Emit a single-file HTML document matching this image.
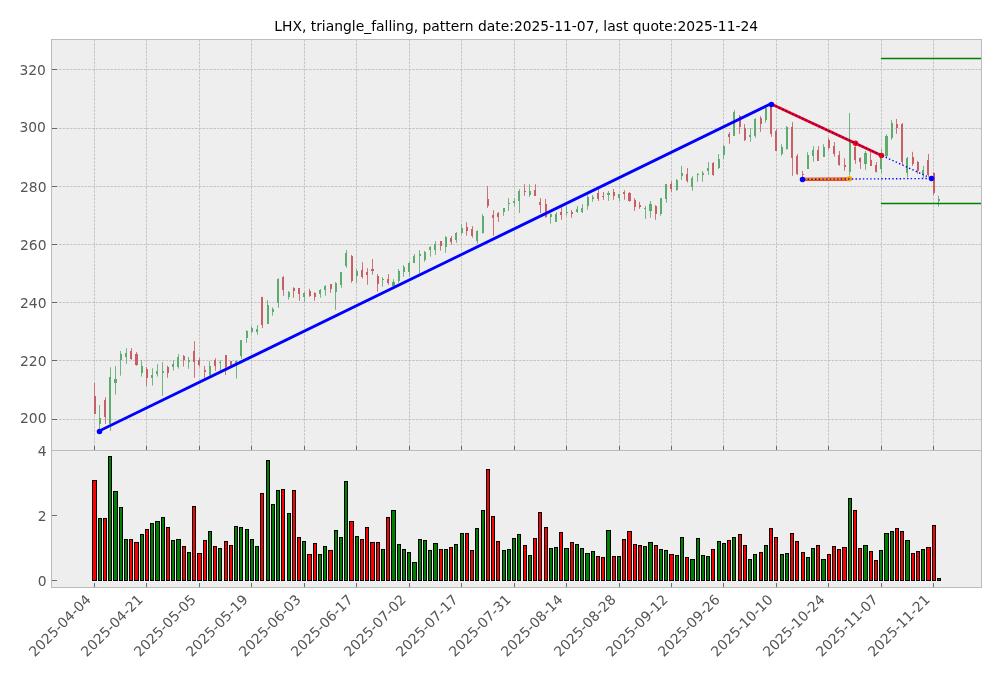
<!DOCTYPE html>
<html lang="en"><head><meta charset="utf-8"><title>LHX triangle_falling</title>
<style>html,body{margin:0;padding:0;background:#fff}body{width:1001px;height:678px;overflow:hidden}svg text{white-space:pre}</style>
</head><body>
<svg width="1001" height="678" viewBox="0 0 1001 678" style="display:block">
<rect width="1001" height="678" fill="#fff"/>
<rect x="51.5" y="39.5" width="930.0" height="548.0" fill="#eeeeee"/>
<path d="M94.5 450.5V39.5M146.5 450.5V39.5M199.5 450.5V39.5M251.5 450.5V39.5M304.5 450.5V39.5M356.5 450.5V39.5M409.5 450.5V39.5M461.5 450.5V39.5M514.5 450.5V39.5M566.5 450.5V39.5M619.5 450.5V39.5M671.5 450.5V39.5M723.5 450.5V39.5M776.5 450.5V39.5M828.5 450.5V39.5M881.5 450.5V39.5M933.5 450.5V39.5M51.5 419.5H981.5M51.5 360.5H981.5M51.5 302.5H981.5M51.5 244.5H981.5M51.5 186.5H981.5M51.5 128.5H981.5M51.5 69.5H981.5" stroke="#b2b2b2" stroke-width="0.69" stroke-dasharray="2.57 1.11" fill="none"/>
<g fill="#70b57e"><rect x="99" y="405.1" width="1" height="26.0"/><rect x="110" y="367.3" width="1" height="63.6"/><rect x="115" y="366.1" width="1" height="28.4"/><rect x="120" y="351.0" width="1" height="24.7"/><rect x="126" y="348.2" width="1" height="15.6"/><rect x="141" y="360.1" width="1" height="16.4"/><rect x="152" y="368.2" width="1" height="17.4"/><rect x="157" y="364.0" width="1" height="12.6"/><rect x="162" y="362.2" width="1" height="33.6"/><rect x="173" y="360.1" width="1" height="10.4"/><rect x="178" y="354.1" width="1" height="14.6"/><rect x="188" y="357.0" width="1" height="11.8"/><rect x="209" y="361.2" width="1" height="14.4"/><rect x="220" y="360.3" width="1" height="10.4"/><rect x="236" y="360.3" width="1" height="18.2"/><rect x="241" y="340.2" width="1" height="18.6"/><rect x="246" y="330.2" width="1" height="12.6"/><rect x="251" y="326.1" width="1" height="7.4"/><rect x="257" y="325.2" width="1" height="9.6"/><rect x="267" y="300.1" width="1" height="23.6"/><rect x="272" y="307.3" width="1" height="8.4"/><rect x="278" y="278.2" width="1" height="29.6"/><rect x="288" y="291.1" width="1" height="8.6"/><rect x="304" y="292.1" width="1" height="9.8"/><rect x="320" y="289.1" width="1" height="8.6"/><rect x="325" y="285.2" width="1" height="10.6"/><rect x="335" y="282.2" width="1" height="27.6"/><rect x="341" y="272.0" width="1" height="15.8"/><rect x="346" y="250.1" width="1" height="17.6"/><rect x="356" y="269.0" width="1" height="13.8"/><rect x="382" y="277.1" width="1" height="9.5"/><rect x="393" y="279.2" width="1" height="7.2"/><rect x="398" y="269.0" width="1" height="13.8"/><rect x="403" y="265.1" width="1" height="11.6"/><rect x="409" y="262.1" width="1" height="14.6"/><rect x="414" y="254.0" width="1" height="9.0"/><rect x="419" y="250.1" width="1" height="23.0"/><rect x="424" y="251.0" width="1" height="10.8"/><rect x="430" y="246.2" width="1" height="10.4"/><rect x="435" y="241.1" width="1" height="13.7"/><rect x="445" y="236.0" width="1" height="16.8"/><rect x="456" y="232.1" width="1" height="10.7"/><rect x="461" y="224.0" width="1" height="10.8"/><rect x="477" y="230.2" width="1" height="13.5"/><rect x="482" y="214.1" width="1" height="19.4"/><rect x="503" y="208.2" width="1" height="7.7"/><rect x="508" y="198.1" width="1" height="12.8"/><rect x="514" y="198.0" width="1" height="8.2"/><rect x="519" y="189.0" width="1" height="24.0"/><rect x="529" y="184.2" width="1" height="12.6"/><rect x="550" y="213.5" width="1" height="10.2"/><rect x="556" y="212.1" width="1" height="9.8"/><rect x="566" y="206.1" width="1" height="9.6"/><rect x="577" y="206.1" width="1" height="6.8"/><rect x="582" y="204.2" width="1" height="8.8"/><rect x="587" y="195.0" width="1" height="14.7"/><rect x="592" y="195.0" width="1" height="6.8"/><rect x="608" y="191.1" width="1" height="9.8"/><rect x="619" y="193.8" width="1" height="7.2"/><rect x="645" y="206.1" width="1" height="12.8"/><rect x="650" y="201.0" width="1" height="16.8"/><rect x="660" y="198.0" width="1" height="17.7"/><rect x="666" y="183.9" width="1" height="18.8"/><rect x="676" y="179.0" width="1" height="11.8"/><rect x="681" y="165.9" width="1" height="14.0"/><rect x="692" y="176.1" width="1" height="14.6"/><rect x="697" y="173.1" width="1" height="8.6"/><rect x="702" y="171.0" width="1" height="10.8"/><rect x="708" y="162.0" width="1" height="12.9"/><rect x="718" y="154.0" width="1" height="15.0"/><rect x="723" y="145.2" width="1" height="13.8"/><rect x="734" y="110.1" width="1" height="25.7"/><rect x="750" y="128.1" width="1" height="13.7"/><rect x="755" y="118.2" width="1" height="19.5"/><rect x="765" y="108.0" width="1" height="14.6"/><rect x="781" y="144.2" width="1" height="11.5"/><rect x="786" y="126.0" width="1" height="23.7"/><rect x="807" y="152.2" width="1" height="16.8"/><rect x="813" y="146.1" width="1" height="15.6"/><rect x="823" y="144.2" width="1" height="12.6"/><rect x="849" y="112.9" width="1" height="62.6"/><rect x="865" y="151.0" width="1" height="18.8"/><rect x="881" y="148.9" width="1" height="24.8"/><rect x="886" y="134.2" width="1" height="22.8"/><rect x="891" y="120.1" width="1" height="19.7"/><rect x="907" y="157.0" width="1" height="20.4"/><rect x="923" y="165.9" width="1" height="12.0"/><rect x="938" y="195.8" width="1" height="10.8"/></g><g fill="#5eac6d"><rect x="99" y="418" width="2" height="6"/><rect x="109" y="377" width="2" height="47"/><rect x="114" y="379" width="3" height="4"/><rect x="120" y="354" width="2" height="6"/><rect x="125" y="353" width="2" height="4"/><rect x="141" y="366" width="2" height="7"/><rect x="151" y="375" width="2" height="3"/><rect x="156" y="371" width="2" height="3"/><rect x="162" y="371" width="2" height="2"/><rect x="172" y="364" width="2" height="3"/><rect x="177" y="357" width="2" height="10"/><rect x="188" y="360" width="2" height="2"/><rect x="209" y="366" width="2" height="9"/><rect x="219" y="362" width="2" height="1"/><rect x="235" y="361" width="2" height="2"/><rect x="240" y="340" width="2" height="16"/><rect x="246" y="331" width="2" height="7"/><rect x="251" y="328" width="2" height="4"/><rect x="256" y="329" width="2" height="3"/><rect x="267" y="305" width="2" height="19"/><rect x="272" y="309" width="2" height="3"/><rect x="277" y="279" width="2" height="24"/><rect x="288" y="292" width="2" height="5"/><rect x="303" y="293" width="2" height="4"/><rect x="319" y="290" width="2" height="4"/><rect x="324" y="286" width="2" height="4"/><rect x="335" y="283" width="2" height="9"/><rect x="340" y="272" width="2" height="13"/><rect x="345" y="253" width="2" height="13"/><rect x="356" y="271" width="2" height="5"/><rect x="382" y="279" width="2" height="1"/><rect x="392" y="282" width="3" height="4"/><rect x="398" y="271" width="2" height="10"/><rect x="403" y="267" width="2" height="5"/><rect x="408" y="263" width="2" height="9"/><rect x="413" y="256" width="2" height="7"/><rect x="419" y="254" width="2" height="2"/><rect x="424" y="252" width="2" height="8"/><rect x="429" y="247" width="2" height="3"/><rect x="434" y="244" width="2" height="6"/><rect x="445" y="237" width="2" height="10"/><rect x="455" y="233" width="2" height="7"/><rect x="461" y="228" width="2" height="5"/><rect x="476" y="231" width="2" height="10"/><rect x="482" y="216" width="2" height="17"/><rect x="503" y="208" width="2" height="4"/><rect x="508" y="203" width="2" height="1"/><rect x="513" y="201" width="2" height="2"/><rect x="518" y="191" width="2" height="10"/><rect x="529" y="191" width="2" height="4"/><rect x="550" y="214" width="2" height="3"/><rect x="555" y="214" width="2" height="8"/><rect x="566" y="212" width="2" height="1"/><rect x="576" y="209" width="2" height="3"/><rect x="581" y="208" width="2" height="4"/><rect x="587" y="197" width="2" height="9"/><rect x="592" y="197" width="2" height="2"/><rect x="607" y="193" width="3" height="2"/><rect x="618" y="194" width="2" height="4"/><rect x="644" y="208" width="2" height="1"/><rect x="649" y="204" width="3" height="7"/><rect x="660" y="198" width="2" height="16"/><rect x="665" y="184" width="2" height="15"/><rect x="676" y="180" width="2" height="10"/><rect x="681" y="173" width="2" height="3"/><rect x="691" y="178" width="2" height="9"/><rect x="697" y="174" width="2" height="1"/><rect x="702" y="173" width="2" height="2"/><rect x="707" y="168" width="2" height="3"/><rect x="718" y="159" width="2" height="9"/><rect x="723" y="146" width="2" height="9"/><rect x="733" y="112" width="2" height="24"/><rect x="749" y="135" width="2" height="2"/><rect x="754" y="119" width="2" height="17"/><rect x="765" y="108" width="2" height="12"/><rect x="781" y="147" width="2" height="7"/><rect x="786" y="127" width="2" height="22"/><rect x="807" y="155" width="2" height="14"/><rect x="812" y="150" width="2" height="6"/><rect x="823" y="147" width="2" height="10"/><rect x="849" y="142" width="2" height="30"/><rect x="864" y="153" width="3" height="11"/><rect x="880" y="158" width="2" height="11"/><rect x="885" y="136" width="3" height="20"/><rect x="891" y="123" width="2" height="15"/><rect x="906" y="158" width="2" height="15"/><rect x="922" y="170" width="2" height="5"/><rect x="938" y="199" width="2" height="2"/></g>
<g fill="#cf7276"><rect x="94" y="382.9" width="1" height="30.8"/><rect x="105" y="397.3" width="1" height="26.6"/><rect x="131" y="348.2" width="1" height="11.6"/><rect x="136" y="352.0" width="1" height="13.8"/><rect x="146" y="367.0" width="1" height="18.8"/><rect x="167" y="365.8" width="1" height="12.0"/><rect x="183" y="355.0" width="1" height="11.6"/><rect x="194" y="341.2" width="1" height="36.6"/><rect x="199" y="358.0" width="1" height="8.6"/><rect x="204" y="365.9" width="1" height="12.0"/><rect x="215" y="358.2" width="1" height="12.6"/><rect x="225" y="355.2" width="1" height="19.8"/><rect x="230" y="361.2" width="1" height="4.8"/><rect x="262" y="296.8" width="1" height="31.2"/><rect x="283" y="276.1" width="1" height="19.7"/><rect x="293" y="287.2" width="1" height="10.6"/><rect x="299" y="288.1" width="1" height="12.8"/><rect x="309" y="288.8" width="1" height="8.0"/><rect x="314" y="292.1" width="1" height="8.6"/><rect x="330" y="284.0" width="1" height="8.8"/><rect x="351" y="254.9" width="1" height="27.8"/><rect x="362" y="262.1" width="1" height="16.4"/><rect x="367" y="268.1" width="1" height="16.7"/><rect x="372" y="259.0" width="1" height="15.6"/><rect x="377" y="274.1" width="1" height="17.6"/><rect x="388" y="274.1" width="1" height="10.7"/><rect x="440" y="241.1" width="1" height="9.5"/><rect x="451" y="236.0" width="1" height="8.6"/><rect x="466" y="222.2" width="1" height="13.5"/><rect x="472" y="226.1" width="1" height="11.6"/><rect x="487" y="186.1" width="1" height="21.8"/><rect x="493" y="210.2" width="1" height="25.5"/><rect x="498" y="212.0" width="1" height="9.8"/><rect x="524" y="184.2" width="1" height="11.6"/><rect x="535" y="184.2" width="1" height="11.6"/><rect x="540" y="198.0" width="1" height="15.0"/><rect x="545" y="198.9" width="1" height="18.8"/><rect x="561" y="207.3" width="1" height="12.5"/><rect x="571" y="210.0" width="1" height="7.8"/><rect x="598" y="189.0" width="1" height="12.0"/><rect x="603" y="192.0" width="1" height="7.8"/><rect x="613" y="189.0" width="1" height="10.8"/><rect x="624" y="190.2" width="1" height="9.6"/><rect x="629" y="192.0" width="1" height="9.8"/><rect x="634" y="198.0" width="1" height="12.9"/><rect x="639" y="201.8" width="1" height="7.0"/><rect x="655" y="205.2" width="1" height="14.6"/><rect x="671" y="181.2" width="1" height="10.8"/><rect x="687" y="168.0" width="1" height="14.6"/><rect x="713" y="162.0" width="1" height="13.8"/><rect x="729" y="132.0" width="1" height="11.8"/><rect x="739" y="115.2" width="1" height="18.6"/><rect x="744" y="124.2" width="1" height="16.8"/><rect x="760" y="116.1" width="1" height="15.8"/><rect x="771" y="106.8" width="1" height="30.0"/><rect x="776" y="129.0" width="1" height="21.9"/><rect x="792" y="122.1" width="1" height="53.7"/><rect x="797" y="154.0" width="1" height="21.0"/><rect x="802" y="170.9" width="1" height="8.1"/><rect x="818" y="146.1" width="1" height="14.6"/><rect x="828" y="138.1" width="1" height="11.6"/><rect x="834" y="142.0" width="1" height="14.6"/><rect x="839" y="151.0" width="1" height="14.7"/><rect x="844" y="158.2" width="1" height="12.6"/><rect x="855" y="146.2" width="1" height="17.6"/><rect x="860" y="157.3" width="1" height="11.6"/><rect x="870" y="151.8" width="1" height="14.1"/><rect x="876" y="162.1" width="1" height="10.4"/><rect x="896" y="118.9" width="1" height="14.9"/><rect x="902" y="123.0" width="1" height="41.7"/><rect x="912" y="151.8" width="1" height="14.1"/><rect x="917" y="160.9" width="1" height="12.8"/><rect x="928" y="154.0" width="1" height="22.8"/><rect x="933" y="172.2" width="1" height="22.8"/></g><g fill="#c76065"><rect x="94" y="396" width="2" height="18"/><rect x="104" y="400" width="2" height="17"/><rect x="130" y="351" width="2" height="8"/><rect x="135" y="354" width="3" height="11"/><rect x="146" y="369" width="2" height="9"/><rect x="167" y="367" width="2" height="6"/><rect x="183" y="356" width="2" height="4"/><rect x="193" y="351" width="2" height="11"/><rect x="198" y="360" width="2" height="5"/><rect x="204" y="370" width="2" height="2"/><rect x="214" y="360" width="2" height="6"/><rect x="225" y="355" width="2" height="12"/><rect x="230" y="361" width="2" height="4"/><rect x="261" y="297" width="2" height="28"/><rect x="282" y="277" width="2" height="13"/><rect x="293" y="288" width="2" height="3"/><rect x="298" y="288" width="2" height="6"/><rect x="309" y="291" width="2" height="5"/><rect x="314" y="293" width="2" height="4"/><rect x="330" y="284" width="2" height="5"/><rect x="351" y="256" width="2" height="25"/><rect x="361" y="270" width="2" height="7"/><rect x="366" y="272" width="2" height="3"/><rect x="371" y="269" width="3" height="2"/><rect x="377" y="276" width="2" height="8"/><rect x="387" y="279" width="2" height="4"/><rect x="440" y="241" width="2" height="5"/><rect x="450" y="238" width="2" height="4"/><rect x="466" y="227" width="2" height="4"/><rect x="471" y="229" width="2" height="7"/><rect x="487" y="199" width="2" height="7"/><rect x="492" y="215" width="2" height="3"/><rect x="497" y="213" width="2" height="4"/><rect x="524" y="191" width="2" height="1"/><rect x="534" y="190" width="2" height="6"/><rect x="539" y="202" width="2" height="3"/><rect x="545" y="204" width="2" height="13"/><rect x="560" y="212" width="2" height="3"/><rect x="571" y="212" width="2" height="2"/><rect x="597" y="193" width="2" height="6"/><rect x="602" y="196" width="2" height="1"/><rect x="613" y="192" width="2" height="4"/><rect x="623" y="192" width="2" height="2"/><rect x="628" y="193" width="3" height="8"/><rect x="634" y="200" width="2" height="7"/><rect x="639" y="205" width="2" height="2"/><rect x="655" y="206" width="2" height="8"/><rect x="670" y="184" width="2" height="5"/><rect x="686" y="174" width="2" height="7"/><rect x="712" y="163" width="2" height="12"/><rect x="728" y="134" width="2" height="3"/><rect x="739" y="116" width="2" height="11"/><rect x="744" y="128" width="2" height="12"/><rect x="760" y="118" width="2" height="6"/><rect x="770" y="107" width="2" height="27"/><rect x="775" y="131" width="2" height="20"/><rect x="791" y="127" width="2" height="31"/><rect x="796" y="156" width="2" height="18"/><rect x="802" y="174" width="2" height="1"/><rect x="817" y="150" width="2" height="11"/><rect x="828" y="140" width="2" height="8"/><rect x="833" y="146" width="2" height="8"/><rect x="838" y="155" width="2" height="10"/><rect x="844" y="165" width="2" height="2"/><rect x="854" y="147" width="2" height="13"/><rect x="859" y="158" width="2" height="4"/><rect x="870" y="160" width="2" height="6"/><rect x="875" y="165" width="2" height="7"/><rect x="896" y="124" width="2" height="4"/><rect x="901" y="124" width="2" height="38"/><rect x="912" y="157" width="2" height="7"/><rect x="917" y="162" width="2" height="9"/><rect x="927" y="160" width="2" height="15"/><rect x="933" y="173" width="2" height="20"/></g>
<path d="M99.28 431.0L770.61 103.95" stroke="#0000ff" stroke-width="2.78" fill="none" stroke-linecap="square"/>
<path d="M880.9 58.5H981.5M880.9 203.5H981.5" stroke="#008000" stroke-width="1.39" fill="none"/>
<path d="M771.3 104.05L881.5 155.5" stroke="#ff0000" stroke-width="2.9" fill="none"/>
<path d="M802.5 179.3L849.5 179.05" stroke="#ff0000" stroke-width="3.3" fill="none"/>
<path d="M802.5 179.3L849.5 179.05" stroke="#ff8800" stroke-width="2.6" fill="none"/>
<circle cx="855.5" cy="143.3" r="2.75" fill="#ff0000"/>
<circle cx="881.5" cy="155.5" r="2.75" fill="#ff0000"/>
<circle cx="849.5" cy="178.8" r="2.75" fill="#ffa500"/>
<path d="M771.3 104.05L931.5 178.5" stroke="#0000ff" stroke-width="1.39" stroke-dasharray="1.39 2.29" stroke-dashoffset="2.67" fill="none"/>
<path d="M802.5 179.3L931.5 178.5" stroke="#0000ff" stroke-width="1.39" stroke-dasharray="1.39 2.29" stroke-dashoffset="-1.5" fill="none"/>
<circle cx="99.5" cy="431.5" r="2.75" fill="#0000ff"/>
<circle cx="771.5" cy="104.4" r="2.75" fill="#0000ff"/>
<circle cx="802.5" cy="179.45" r="2.75" fill="#0000ff"/>
<circle cx="931.5" cy="178.5" r="2.75" fill="#0000ff"/>
<g stroke="#000" stroke-width="1" shape-rendering="crispEdges"><rect x="92.5" y="480.5" width="4.0" height="100.0" fill="#ff0000"/><rect x="98.5" y="518.5" width="3.0" height="62.0" fill="#008000"/><rect x="103.5" y="518.5" width="3.0" height="62.0" fill="#ff0000"/><rect x="108.5" y="456.5" width="3.0" height="124.0" fill="#008000"/><rect x="113.5" y="491.5" width="4.0" height="89.0" fill="#008000"/><rect x="119.5" y="507.5" width="3.0" height="73.0" fill="#008000"/><rect x="124.5" y="539.5" width="3.0" height="41.0" fill="#008000"/><rect x="129.5" y="539.5" width="3.0" height="41.0" fill="#ff0000"/><rect x="134.5" y="542.5" width="4.0" height="38.0" fill="#ff0000"/><rect x="140.5" y="534.5" width="3.0" height="46.0" fill="#008000"/><rect x="145.5" y="529.5" width="3.0" height="51.0" fill="#ff0000"/><rect x="150.5" y="523.5" width="3.0" height="57.0" fill="#008000"/><rect x="155.5" y="521.5" width="4.0" height="59.0" fill="#008000"/><rect x="161.5" y="517.5" width="3.0" height="63.0" fill="#008000"/><rect x="166.5" y="527.5" width="3.0" height="53.0" fill="#ff0000"/><rect x="171.5" y="540.5" width="3.0" height="40.0" fill="#008000"/><rect x="176.5" y="539.5" width="4.0" height="41.0" fill="#008000"/><rect x="182.5" y="546.5" width="3.0" height="34.0" fill="#ff0000"/><rect x="187.5" y="552.5" width="3.0" height="28.0" fill="#008000"/><rect x="192.5" y="506.5" width="3.0" height="74.0" fill="#ff0000"/><rect x="197.5" y="553.5" width="4.0" height="27.0" fill="#ff0000"/><rect x="203.5" y="540.5" width="3.0" height="40.0" fill="#ff0000"/><rect x="208.5" y="531.5" width="3.0" height="49.0" fill="#008000"/><rect x="213.5" y="546.5" width="3.0" height="34.0" fill="#ff0000"/><rect x="218.5" y="548.5" width="3.0" height="32.0" fill="#008000"/><rect x="224.5" y="541.5" width="3.0" height="39.0" fill="#ff0000"/><rect x="229.5" y="545.5" width="3.0" height="35.0" fill="#ff0000"/><rect x="234.5" y="526.5" width="3.0" height="54.0" fill="#008000"/><rect x="239.5" y="527.5" width="3.0" height="53.0" fill="#008000"/><rect x="245.5" y="529.5" width="3.0" height="51.0" fill="#008000"/><rect x="250.5" y="539.5" width="3.0" height="41.0" fill="#008000"/><rect x="255.5" y="546.5" width="3.0" height="34.0" fill="#008000"/><rect x="260.5" y="493.5" width="3.0" height="87.0" fill="#ff0000"/><rect x="266.5" y="460.5" width="3.0" height="120.0" fill="#008000"/><rect x="271.5" y="504.5" width="3.0" height="76.0" fill="#008000"/><rect x="276.5" y="490.5" width="3.0" height="90.0" fill="#008000"/><rect x="281.5" y="489.5" width="3.0" height="91.0" fill="#ff0000"/><rect x="287.5" y="513.5" width="3.0" height="67.0" fill="#008000"/><rect x="292.5" y="490.5" width="3.0" height="90.0" fill="#ff0000"/><rect x="297.5" y="537.5" width="3.0" height="43.0" fill="#ff0000"/><rect x="302.5" y="541.5" width="3.0" height="39.0" fill="#008000"/><rect x="307.5" y="554.5" width="4.0" height="26.0" fill="#ff0000"/><rect x="313.5" y="543.5" width="3.0" height="37.0" fill="#ff0000"/><rect x="318.5" y="554.5" width="3.0" height="26.0" fill="#008000"/><rect x="323.5" y="546.5" width="3.0" height="34.0" fill="#008000"/><rect x="328.5" y="550.5" width="4.0" height="30.0" fill="#ff0000"/><rect x="334.5" y="530.5" width="3.0" height="50.0" fill="#008000"/><rect x="339.5" y="537.5" width="3.0" height="43.0" fill="#008000"/><rect x="344.5" y="481.5" width="3.0" height="99.0" fill="#008000"/><rect x="349.5" y="521.5" width="4.0" height="59.0" fill="#ff0000"/><rect x="355.5" y="536.5" width="3.0" height="44.0" fill="#008000"/><rect x="360.5" y="539.5" width="3.0" height="41.0" fill="#ff0000"/><rect x="365.5" y="527.5" width="3.0" height="53.0" fill="#ff0000"/><rect x="370.5" y="542.5" width="4.0" height="38.0" fill="#ff0000"/><rect x="376.5" y="542.5" width="3.0" height="38.0" fill="#ff0000"/><rect x="381.5" y="549.5" width="3.0" height="31.0" fill="#008000"/><rect x="386.5" y="517.5" width="3.0" height="63.0" fill="#ff0000"/><rect x="391.5" y="510.5" width="4.0" height="70.0" fill="#008000"/><rect x="397.5" y="544.5" width="3.0" height="36.0" fill="#008000"/><rect x="402.5" y="549.5" width="3.0" height="31.0" fill="#008000"/><rect x="407.5" y="552.5" width="3.0" height="28.0" fill="#008000"/><rect x="412.5" y="562.5" width="4.0" height="18.0" fill="#008000"/><rect x="418.5" y="539.5" width="3.0" height="41.0" fill="#008000"/><rect x="423.5" y="540.5" width="3.0" height="40.0" fill="#008000"/><rect x="428.5" y="550.5" width="3.0" height="30.0" fill="#008000"/><rect x="433.5" y="543.5" width="4.0" height="37.0" fill="#008000"/><rect x="439.5" y="549.5" width="3.0" height="31.0" fill="#ff0000"/><rect x="444.5" y="549.5" width="3.0" height="31.0" fill="#008000"/><rect x="449.5" y="547.5" width="3.0" height="33.0" fill="#ff0000"/><rect x="454.5" y="544.5" width="3.0" height="36.0" fill="#008000"/><rect x="460.5" y="533.5" width="3.0" height="47.0" fill="#008000"/><rect x="465.5" y="533.5" width="3.0" height="47.0" fill="#ff0000"/><rect x="470.5" y="550.5" width="3.0" height="30.0" fill="#ff0000"/><rect x="475.5" y="528.5" width="3.0" height="52.0" fill="#008000"/><rect x="481.5" y="510.5" width="3.0" height="70.0" fill="#008000"/><rect x="486.5" y="469.5" width="3.0" height="111.0" fill="#ff0000"/><rect x="491.5" y="516.5" width="3.0" height="64.0" fill="#ff0000"/><rect x="496.5" y="541.5" width="3.0" height="39.0" fill="#ff0000"/><rect x="502.5" y="550.5" width="3.0" height="30.0" fill="#008000"/><rect x="507.5" y="549.5" width="3.0" height="31.0" fill="#008000"/><rect x="512.5" y="538.5" width="3.0" height="42.0" fill="#008000"/><rect x="517.5" y="534.5" width="3.0" height="46.0" fill="#008000"/><rect x="523.5" y="545.5" width="3.0" height="35.0" fill="#ff0000"/><rect x="528.5" y="555.5" width="3.0" height="25.0" fill="#008000"/><rect x="533.5" y="538.5" width="3.0" height="42.0" fill="#ff0000"/><rect x="538.5" y="512.5" width="3.0" height="68.0" fill="#ff0000"/><rect x="544.5" y="527.5" width="3.0" height="53.0" fill="#ff0000"/><rect x="549.5" y="548.5" width="3.0" height="32.0" fill="#008000"/><rect x="554.5" y="547.5" width="3.0" height="33.0" fill="#008000"/><rect x="559.5" y="532.5" width="3.0" height="48.0" fill="#ff0000"/><rect x="564.5" y="548.5" width="4.0" height="32.0" fill="#008000"/><rect x="570.5" y="542.5" width="3.0" height="38.0" fill="#ff0000"/><rect x="575.5" y="544.5" width="3.0" height="36.0" fill="#008000"/><rect x="580.5" y="548.5" width="3.0" height="32.0" fill="#008000"/><rect x="585.5" y="553.5" width="4.0" height="27.0" fill="#008000"/><rect x="591.5" y="551.5" width="3.0" height="29.0" fill="#008000"/><rect x="596.5" y="556.5" width="3.0" height="24.0" fill="#ff0000"/><rect x="601.5" y="557.5" width="3.0" height="23.0" fill="#ff0000"/><rect x="606.5" y="530.5" width="4.0" height="50.0" fill="#008000"/><rect x="612.5" y="556.5" width="3.0" height="24.0" fill="#ff0000"/><rect x="617.5" y="556.5" width="3.0" height="24.0" fill="#008000"/><rect x="622.5" y="539.5" width="3.0" height="41.0" fill="#ff0000"/><rect x="627.5" y="531.5" width="4.0" height="49.0" fill="#ff0000"/><rect x="633.5" y="544.5" width="3.0" height="36.0" fill="#ff0000"/><rect x="638.5" y="545.5" width="3.0" height="35.0" fill="#ff0000"/><rect x="643.5" y="546.5" width="3.0" height="34.0" fill="#008000"/><rect x="648.5" y="542.5" width="4.0" height="38.0" fill="#008000"/><rect x="654.5" y="545.5" width="3.0" height="35.0" fill="#ff0000"/><rect x="659.5" y="549.5" width="3.0" height="31.0" fill="#008000"/><rect x="664.5" y="550.5" width="3.0" height="30.0" fill="#008000"/><rect x="669.5" y="554.5" width="4.0" height="26.0" fill="#ff0000"/><rect x="675.5" y="555.5" width="3.0" height="25.0" fill="#008000"/><rect x="680.5" y="537.5" width="3.0" height="43.0" fill="#008000"/><rect x="685.5" y="557.5" width="3.0" height="23.0" fill="#ff0000"/><rect x="690.5" y="559.5" width="4.0" height="21.0" fill="#008000"/><rect x="696.5" y="538.5" width="3.0" height="42.0" fill="#008000"/><rect x="701.5" y="555.5" width="3.0" height="25.0" fill="#008000"/><rect x="706.5" y="556.5" width="3.0" height="24.0" fill="#008000"/><rect x="711.5" y="549.5" width="3.0" height="31.0" fill="#ff0000"/><rect x="717.5" y="541.5" width="3.0" height="39.0" fill="#008000"/><rect x="722.5" y="543.5" width="3.0" height="37.0" fill="#008000"/><rect x="727.5" y="540.5" width="3.0" height="40.0" fill="#ff0000"/><rect x="732.5" y="537.5" width="3.0" height="43.0" fill="#008000"/><rect x="738.5" y="534.5" width="3.0" height="46.0" fill="#ff0000"/><rect x="743.5" y="545.5" width="3.0" height="35.0" fill="#ff0000"/><rect x="748.5" y="559.5" width="3.0" height="21.0" fill="#008000"/><rect x="753.5" y="554.5" width="3.0" height="26.0" fill="#008000"/><rect x="759.5" y="552.5" width="3.0" height="28.0" fill="#ff0000"/><rect x="764.5" y="545.5" width="3.0" height="35.0" fill="#008000"/><rect x="769.5" y="528.5" width="3.0" height="52.0" fill="#ff0000"/><rect x="774.5" y="537.5" width="3.0" height="43.0" fill="#ff0000"/><rect x="780.5" y="554.5" width="3.0" height="26.0" fill="#008000"/><rect x="785.5" y="553.5" width="3.0" height="27.0" fill="#008000"/><rect x="790.5" y="533.5" width="3.0" height="47.0" fill="#ff0000"/><rect x="795.5" y="541.5" width="3.0" height="39.0" fill="#ff0000"/><rect x="801.5" y="552.5" width="3.0" height="28.0" fill="#ff0000"/><rect x="806.5" y="557.5" width="3.0" height="23.0" fill="#008000"/><rect x="811.5" y="548.5" width="3.0" height="32.0" fill="#008000"/><rect x="816.5" y="545.5" width="3.0" height="35.0" fill="#ff0000"/><rect x="821.5" y="559.5" width="4.0" height="21.0" fill="#008000"/><rect x="827.5" y="554.5" width="3.0" height="26.0" fill="#ff0000"/><rect x="832.5" y="546.5" width="3.0" height="34.0" fill="#ff0000"/><rect x="837.5" y="549.5" width="3.0" height="31.0" fill="#ff0000"/><rect x="842.5" y="547.5" width="4.0" height="33.0" fill="#ff0000"/><rect x="848.5" y="498.5" width="3.0" height="82.0" fill="#008000"/><rect x="853.5" y="510.5" width="3.0" height="70.0" fill="#ff0000"/><rect x="858.5" y="548.5" width="3.0" height="32.0" fill="#ff0000"/><rect x="863.5" y="545.5" width="4.0" height="35.0" fill="#008000"/><rect x="869.5" y="551.5" width="3.0" height="29.0" fill="#ff0000"/><rect x="874.5" y="560.5" width="3.0" height="20.0" fill="#ff0000"/><rect x="879.5" y="550.5" width="3.0" height="30.0" fill="#008000"/><rect x="884.5" y="533.5" width="4.0" height="47.0" fill="#008000"/><rect x="890.5" y="531.5" width="3.0" height="49.0" fill="#008000"/><rect x="895.5" y="528.5" width="3.0" height="52.0" fill="#ff0000"/><rect x="900.5" y="531.5" width="3.0" height="49.0" fill="#ff0000"/><rect x="905.5" y="540.5" width="4.0" height="40.0" fill="#008000"/><rect x="911.5" y="553.5" width="3.0" height="27.0" fill="#ff0000"/><rect x="916.5" y="551.5" width="3.0" height="29.0" fill="#ff0000"/><rect x="921.5" y="549.5" width="3.0" height="31.0" fill="#008000"/><rect x="926.5" y="547.5" width="4.0" height="33.0" fill="#ff0000"/><rect x="932.5" y="525.5" width="3.0" height="55.0" fill="#ff0000"/><rect x="937.5" y="578.5" width="3.0" height="2.0" fill="#008000"/></g>
<path d="M51.5 39.5H981.5V587.5H51.5ZM51.5 450.5H981.5" stroke="#bcbcbc" stroke-width="1" fill="none" shape-rendering="crispEdges"/>
<path d="M94.5 450.0v-4.5M94.5 587.0v-4.5M146.5 450.0v-4.5M146.5 587.0v-4.5M199.5 450.0v-4.5M199.5 587.0v-4.5M251.5 450.0v-4.5M251.5 587.0v-4.5M304.5 450.0v-4.5M304.5 587.0v-4.5M356.5 450.0v-4.5M356.5 587.0v-4.5M409.5 450.0v-4.5M409.5 587.0v-4.5M461.5 450.0v-4.5M461.5 587.0v-4.5M514.5 450.0v-4.5M514.5 587.0v-4.5M566.5 450.0v-4.5M566.5 587.0v-4.5M619.5 450.0v-4.5M619.5 587.0v-4.5M671.5 450.0v-4.5M671.5 587.0v-4.5M723.5 450.0v-4.5M723.5 587.0v-4.5M776.5 450.0v-4.5M776.5 587.0v-4.5M828.5 450.0v-4.5M828.5 587.0v-4.5M881.5 450.0v-4.5M881.5 587.0v-4.5M933.5 450.0v-4.5M933.5 587.0v-4.5M52.0 419.5h4.5M52.0 360.5h4.5M52.0 302.5h4.5M52.0 244.5h4.5M52.0 186.5h4.5M52.0 128.5h4.5M52.0 69.5h4.5M52.0 580.5h4.5M52.0 515.5h4.5" stroke="#555555" stroke-opacity="0.85" stroke-width="1" fill="none" shape-rendering="crispEdges"/>
<g font-family="'DejaVu Sans','Liberation Sans',sans-serif" font-size="13.89px" fill="#555555">
<text x="46.5" y="423.4" text-anchor="end">200</text>
<text x="46.5" y="365.5" text-anchor="end">220</text>
<text x="46.5" y="307.5" text-anchor="end">240</text>
<text x="46.5" y="249.5" text-anchor="end">260</text>
<text x="46.5" y="191.5" text-anchor="end">280</text>
<text x="45.9" y="132.4" text-anchor="end">300</text>
<text x="45.9" y="74.5" text-anchor="end">320</text>
<text x="46.5" y="585.5" text-anchor="end">0</text>
<text x="46.5" y="520.5" text-anchor="end">2</text>
<text x="46.5" y="455.5" text-anchor="end">4</text>
<text transform="translate(91.8 600.4) rotate(-45)" text-anchor="end" font-size="13.89px">2025-04-04</text>
<text transform="translate(143.8 600.4) rotate(-45)" text-anchor="end" font-size="13.89px">2025-04-21</text>
<text transform="translate(196.8 600.4) rotate(-45)" text-anchor="end" font-size="13.89px">2025-05-05</text>
<text transform="translate(248.8 600.4) rotate(-45)" text-anchor="end" font-size="13.89px">2025-05-19</text>
<text transform="translate(301.8 600.4) rotate(-45)" text-anchor="end" font-size="13.89px">2025-06-03</text>
<text transform="translate(353.8 600.4) rotate(-45)" text-anchor="end" font-size="13.89px">2025-06-17</text>
<text transform="translate(406.8 600.4) rotate(-45)" text-anchor="end" font-size="13.89px">2025-07-02</text>
<text transform="translate(458.8 600.4) rotate(-45)" text-anchor="end" font-size="13.89px">2025-07-17</text>
<text transform="translate(511.8 600.4) rotate(-45)" text-anchor="end" font-size="13.89px">2025-07-31</text>
<text transform="translate(563.8 600.4) rotate(-45)" text-anchor="end" font-size="13.89px">2025-08-14</text>
<text transform="translate(616.8 600.4) rotate(-45)" text-anchor="end" font-size="13.89px">2025-08-28</text>
<text transform="translate(668.8 600.4) rotate(-45)" text-anchor="end" font-size="13.89px">2025-09-12</text>
<text transform="translate(720.8 600.4) rotate(-45)" text-anchor="end" font-size="13.89px">2025-09-26</text>
<text transform="translate(773.8 600.4) rotate(-45)" text-anchor="end" font-size="13.89px">2025-10-10</text>
<text transform="translate(825.8 600.4) rotate(-45)" text-anchor="end" font-size="13.89px">2025-10-24</text>
<text transform="translate(878.8 600.4) rotate(-45)" text-anchor="end" font-size="13.89px">2025-11-07</text>
<text transform="translate(930.8 600.4) rotate(-45)" text-anchor="end" font-size="13.89px">2025-11-21</text>
</g>
<text x="516.2" y="31.3" text-anchor="middle" font-family="'DejaVu Sans','Liberation Sans',sans-serif" font-size="13.89px" fill="#000">LHX, triangle_falling, pattern date:2025-11-07, last quote:2025-11-24</text>
</svg>
</body></html>
